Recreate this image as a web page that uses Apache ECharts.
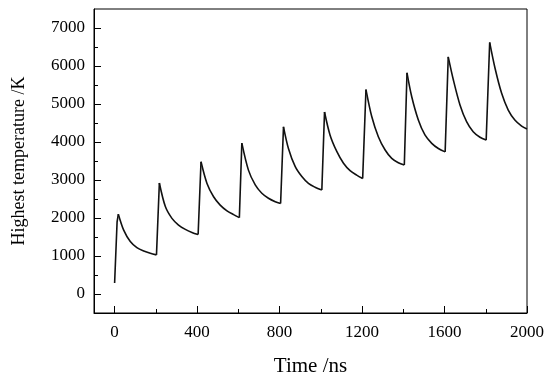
<!DOCTYPE html>
<html>
<head>
<meta charset="utf-8">
<script src="https://cdn.jsdelivr.net/npm/echarts@6/dist/echarts.min.js"></script>
<style>html,body{margin:0;padding:0;background:#fff;}#c{width:550px;height:379px;}</style>
</head>
<body>
<div id="c"></div>
<script>
// Time (ns) and highest temperature (K)
const timeNs = [
  0, 12, 18, 44, 76, 108, 141, 173, 203,
  217, 246, 278, 310, 343, 375, 405,
  419, 448, 480, 512, 545, 577, 605,
  617, 649, 682, 714, 746, 779, 805,
  819, 843, 876, 908, 940, 972, 1005,
  1018, 1045, 1078, 1110, 1142, 1174, 1203,
  1219, 1247, 1279, 1312, 1344, 1376, 1405,
  1418, 1441, 1473, 1505, 1538, 1570, 1603,
  1618, 1643, 1675, 1707, 1739, 1772, 1802,
  1819, 1845, 1877, 1909, 1941, 1974, 2000
];
const tempK = [
  290, 1900, 2100, 1680, 1380, 1220, 1130, 1070, 1030,
  2920, 2300, 1990, 1815, 1700, 1620, 1565,
  3480, 2910, 2560, 2340, 2190, 2090, 2010,
  3970, 3260, 2870, 2650, 2520, 2430, 2380,
  4400, 3830, 3350, 3090, 2910, 2810, 2735,
  4790, 4180, 3745, 3440, 3245, 3130, 3040,
  5380, 4670, 4140, 3790, 3570, 3455, 3395,
  5820, 5190, 4580, 4185, 3965, 3830, 3740,
  6240, 5630, 4975, 4535, 4270, 4125, 4050,
  6620, 5940, 5280, 4840, 4580, 4420, 4340
];
const xMajorTicks = [0, 400, 800, 1200, 1600, 2000];
const xMinorTicks = [200, 600, 1000, 1400, 1800];
const yMajorTicks = [0, 1000, 2000, 3000, 4000, 5000, 6000, 7000];
const yMinorTicks = [500, 1500, 2500, 3500, 4500, 5500, 6500];

const FONT = 'Liberation Serif';
// split into smooth decay segments and straight rising edges
const decayData = [];
const riseData = [];
timeNs.forEach((t, i) => {
  if (i > 0 && tempK[i] > tempK[i - 1]) {
    riseData.push([timeNs[i - 1], tempK[i - 1]], [t, tempK[i]], null);
    decayData.push(null);
  }
  decayData.push([t, tempK[i]]);
});

const chart = echarts.init(document.getElementById('c'), null, {renderer: 'canvas'});
const axisLine = {show: true, onZero: false, lineStyle: {color: '#000', width: 1}};
const plain = v => String(v);
const lineStyle = {color: '#111', width: 1.6};
chart.setOption({
  animation: false,
  backgroundColor: '#fff',
  grid: {left: 94, right: 23, top: 9, bottom: 66, show: true, borderColor: '#000', borderWidth: 1,
         containLabel: false, outerBoundsMode: 'none'},
  xAxis: [{
    type: 'value', min: -100, max: 2000, position: 'bottom',
    axisLine: axisLine,
    axisTick: {show: true, inside: true, length: 7, customValues: xMajorTicks, lineStyle: {color: '#000'}},
    axisLabel: {customValues: xMajorTicks, formatter: plain, fontFamily: FONT, fontSize: 17, color: '#000', margin: 11},
    splitLine: {show: false},
    name: 'Time /ns', nameLocation: 'middle', nameGap: 43,
    nameTextStyle: {fontFamily: FONT, fontSize: 21, color: '#000'}
  }, {
    type: 'value', min: -100, max: 2000, position: 'bottom',
    axisLine: {show: false, onZero: false},
    axisTick: {show: true, inside: true, length: 4, customValues: xMinorTicks, lineStyle: {color: '#000'}},
    axisLabel: {show: false},
    splitLine: {show: false}
  }],
  yAxis: [{
    type: 'value', min: -500, max: 7500, position: 'left',
    axisLine: axisLine,
    axisTick: {show: true, inside: true, length: 7, customValues: yMajorTicks, lineStyle: {color: '#000'}},
    axisLabel: {customValues: yMajorTicks, formatter: plain, fontFamily: FONT, fontSize: 17, color: '#000', margin: 9},
    splitLine: {show: false},
    name: 'Highest temperature /K', nameLocation: 'middle', nameGap: 66, nameRotate: 90,
    nameTextStyle: {fontFamily: FONT, fontSize: 18, color: '#000'}
  }, {
    type: 'value', min: -500, max: 7500, position: 'left',
    axisLine: {show: false, onZero: false},
    axisTick: {show: true, inside: true, length: 4, customValues: yMinorTicks, lineStyle: {color: '#000'}},
    axisLabel: {show: false},
    splitLine: {show: false}
  }],
  series: [{
    type: 'line', xAxisIndex: 0, yAxisIndex: 0,
    data: decayData, showSymbol: false, symbol: 'none',
    smooth: 0.3, connectNulls: false,
    lineStyle: lineStyle
  }, {
    type: 'line', xAxisIndex: 0, yAxisIndex: 0,
    data: riseData, showSymbol: false, symbol: 'none',
    smooth: false, connectNulls: false,
    lineStyle: lineStyle
  }]
});
</script>
</body>
</html>
